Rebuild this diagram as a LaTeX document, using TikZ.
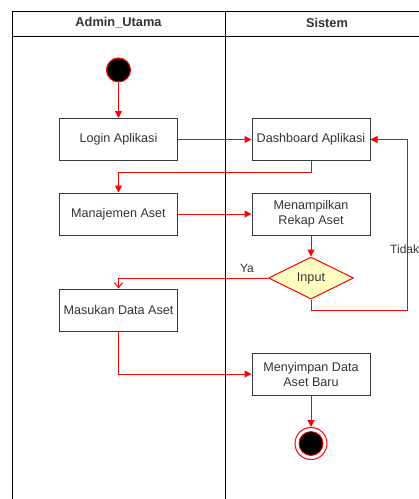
\documentclass[tikz,border=0pt]{standalone}
\usepackage{fontspec}
\setmainfont{Liberation Sans}
\usetikzlibrary{shapes.geometric,arrows.meta}
\definecolor{flow}{HTML}{FF0000}
\definecolor{txt}{HTML}{333333}
\definecolor{decfill}{HTML}{FFFFC0}
\definecolor{edge}{HTML}{36393D}

\begin{document}
\begin{tikzpicture}[x=1pt,y=-1pt,
  lane/.style={draw=black, line width=1pt},
  lanehead/.style={text=txt, font=\fontsize{12.8}{15}\selectfont\bfseries, inner sep=0},
  act/.style={draw=edge, line width=1pt, minimum width=118pt, minimum height=42pt,
    inner sep=0, text=txt, font=\fontsize{12.6}{15}\selectfont, align=center},
  decision/.style={diamond, draw=flow, fill=decfill, line width=1pt, minimum width=85pt,
    minimum height=42pt, inner sep=0, text=txt, font=\fontsize{12.6}{15}\selectfont},
  initial/.style={circle, draw=flow, fill=black, line width=1pt, minimum size=24pt, inner sep=0},
  final/.style={circle, draw=flow, fill=white, line width=1pt, minimum size=32pt, inner sep=0},
  finalcore/.style={circle, draw=flow, fill=black, line width=0.8pt, minimum size=24pt, inner sep=0},
  flowline/.style={draw=flow, line width=1pt, -{Triangle[length=7pt,width=7pt]}},
  openflow/.style={draw=flow, line width=1pt, -{Straight Barb[length=5pt,width=8pt]}},
  guard/.style={text=txt, font=\fontsize{12}{14}\selectfont, inner sep=0},
]
\useasboundingbox (0,0) rectangle (419,499);

% swimlane frame
\draw[lane] (12,505) -- (12,11) -- (430,11);
\draw[lane] (12,36) -- (430,36);
\draw[lane] (225,11) -- (225,505);
\node[lanehead] (laneA) at (118.5,23) {Admin\_Utama};
\node[lanehead] (laneS) at (327,23) {Sistem};

% activities
\node[initial] (start) at (118.5,70) {};
\node[act] (login) at (118.5,139.5) {Login Aplikasi};
\node[act] (dash) at (311,139.5) {Dashboard Aplikasi};
\node[act] (manaj) at (118.5,214) {Manajemen Aset};
\node[act] (rekap) at (311,214) {Menampilkan\\Rekap Aset};
\node[decision] (input) at (311,278) {Input};
\node[act] (masuk) at (118.5,310) {Masukan Data Aset};
\node[act] (simpan) at (311,374) {Menyimpan Data\\Aset Baru};
\node[final] (stop) at (311,443.5) {};
\node[finalcore] (stopcore) at (311,443.5) {};
\coordinate (back) at (407,139.5);

% flows
\draw[flowline] (start) -- (login);
\draw[flowline] (login) -- (dash);
\draw[flowline] (dash.south) -- ++(0,11) -| (manaj.north);
\draw[flowline] (manaj) -- (rekap);
\draw[flowline] (rekap) -- (input);
\draw[openflow] (input.west) -| (masuk.north);
\draw[flowline] (masuk.south) |- (simpan.west);
\draw[flowline] (simpan) -- (stop);
\draw[flowline] (input.south) -- ++(0,11) -| (back) -- (dash.east);

% guards
\node[guard] (ya) at (247,268) {Ya};
\node[guard, anchor=west] (tidak) at (390,249) {Tidak};
\end{tikzpicture}
\end{document}
